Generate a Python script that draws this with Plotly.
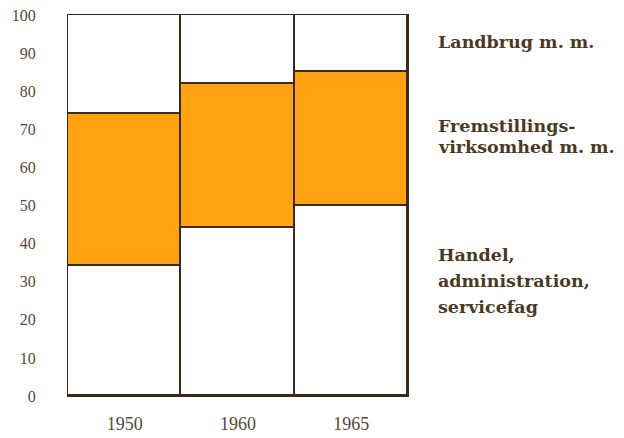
import plotly.graph_objects as go

years = ["1950", "1960", "1965"]
handel = [34, 44, 50]
fremst = [40, 38, 35]
landbrug = [26, 18, 15]
y_ticks = [0, 10, 20, 30, 40, 50, 60, 70, 80, 90, 100]

label_landbrug = ["Landbrug m. m."]
label_fremst = ["Fremstillings-", "virksomhed m. m."]
label_handel = ["Handel,", "administration,", "servicefag"]

edge = "#3b2a1a"
fig = go.Figure()
for vals, col in [(handel, "#ffffff"), (fremst, "#ffa313"), (landbrug, "#ffffff")]:
    fig.add_trace(go.Bar(x=years, y=vals, width=1, marker=dict(color=col, line=dict(color=edge, width=1.6)),
                         showlegend=False, hoverinfo="skip"))

# page body has an 8px default margin
OFF = 8
W, H = 624 - OFF, 438 - OFF
ml, mt = 68 - OFF, 15 - OFF
mr = W - (408 - OFF)
mb = H - (396 - OFF)
pw, ph = W - ml - mr, H - mt - mb

def px_to_paper(x, y):
    x -= OFF
    y -= OFF
    return (x - ml) / pw, (H - mb - y) / ph

ann = []
def add_lines(lines, y0, step):
    for i, t in enumerate(lines):
        xp, yp = px_to_paper(436, y0 + i * step)
        ann.append(dict(text="<b>" + t + "</b>", x=xp, y=yp, xref="paper", yref="paper",
                        xanchor="left", yanchor="middle", showarrow=False,
                        font=dict(family="DejaVu Serif, serif", size=17.5, color="#4a3a22")))

add_lines(label_landbrug, 42, 0)
add_lines(label_fremst, 126, 21)
add_lines(label_handel, 255, 26)

fig.update_layout(
    barmode="stack", bargap=0,
    width=W, height=H,
    margin=dict(l=ml, r=mr, t=mt, b=mb, pad=0, autoexpand=False),
    paper_bgcolor="white", plot_bgcolor="white",
    font=dict(family="Liberation Serif, DejaVu Serif, serif", color="#55473a"),
    annotations=ann,
)
fig.update_xaxes(range=[-0.5, 2.5], showline=True, linecolor=edge, linewidth=1, mirror=True, automargin=False,
                 showgrid=False, ticks="", tickfont=dict(size=18), ticklabelstandoff=11,
                 ticklabeloverflow="allow")
fig.update_yaxes(range=[0, 100], tickvals=y_ticks, showline=True, linecolor=edge, linewidth=1, mirror=True,
                 automargin=False, showgrid=False, zeroline=False, ticks="", tickfont=dict(size=16),
                 ticklabelstandoff=28, ticklabeloverflow="allow")

fig.write_html("out.html")
